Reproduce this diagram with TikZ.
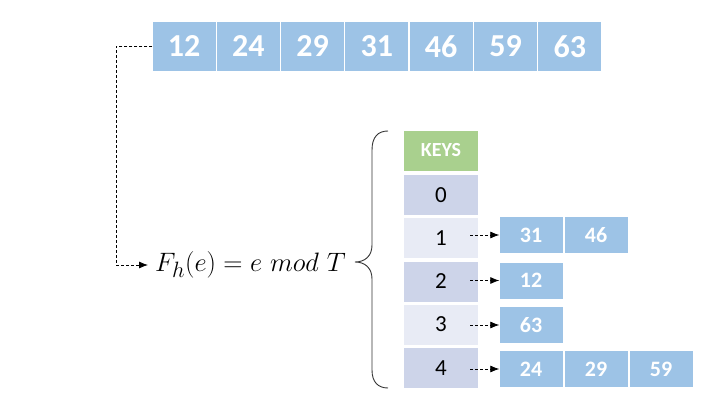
\documentclass[tikz,border=0pt]{standalone}
\usepackage{graphicx}
\usepackage{fontspec}
\newfontfamily\carlitofont{Carlito}
\usetikzlibrary{arrows.meta,positioning}
\definecolor{cellblue}{HTML}{9DC3E6}
\definecolor{keygreen}{HTML}{A9D08E}
\definecolor{rowdark}{HTML}{CDD4E9}
\definecolor{rowlight}{HTML}{E8EBF5}
\tikzset{
  topcell/.style={fill=cellblue, minimum width=63pt, minimum height=49pt, inner sep=0pt, text=white, font=\carlitofont\bfseries\fontsize{32}{32}\selectfont},
  keycell/.style={minimum width=74pt, minimum height=40pt, inner sep=0pt, font=\carlitofont\fontsize{23}{23}\selectfont},
  chaincell/.style={fill=cellblue, minimum width=63pt, minimum height=36pt, inner sep=0pt, text=white, font=\carlitofont\bfseries\fontsize{22}{22}\selectfont},
  link/.style={densely dashed, line width=0.8pt, -{Latex[length=9pt,width=7pt]}},
}
\begin{document}
\begin{tikzpicture}[x=1pt,y=-1pt]
\useasboundingbox (0,0) rectangle (720,404);
% top array
\foreach \v [count=\i from 0] in {12,24,29,31,46,59,63}{
  \node[topcell] (t\i) at ({184+64.3*\i},46.5) {\v};
}
% keys column
\node[keycell, fill=keygreen, text=white, font=\carlitofont\bfseries\fontsize{20}{20}\selectfont] (keys) at (441,150.5) {KEYS};
\node[keycell, fill=rowdark] (r0) at (441,195) {0};
\node[keycell, fill=rowlight] (r1) at (441,238) {1};
\node[keycell, fill=rowdark] (r2) at (441,281.5) {2};
\node[keycell, fill=rowlight] (r3) at (441,324.5) {3};
\node[keycell, fill=rowdark] (r4) at (441,368) {4};
% chains
\node[chaincell] (c1a) at (531,235) {31};
\node[chaincell] (c1b) at (596,235) {46};
\node[chaincell] (c2a) at (531,280.5) {12};
\node[chaincell] (c3a) at (531,325) {63};
\node[chaincell] (c4a) at (531,369) {24};
\node[chaincell] (c4b) at (596,369) {29};
\node[chaincell] (c4c) at (661,369) {59};
\draw[link] ([xshift=-8pt]r1.east |- c1a.west) -- (c1a.west);
\draw[link] ([xshift=-8pt]r2.east |- c2a.west) -- (c2a.west);
\draw[link] ([xshift=-8pt]r3.east |- c3a.west) -- (c3a.west);
\draw[link] ([xshift=-8pt]r4.east |- c4a.west) -- (c4a.west);
% formula
\node[anchor=west, inner sep=0pt, font=\fontsize{24.88}{24.88}\selectfont] (f) at (155,265) {\scalebox{1.07}{$F_h(e) = e~mod~T$}};
\coordinate (bend) at (116,46.5);
\draw[link] (t0.west) -- (bend) |- ([xshift=-7pt]f.west);
% brace
\draw[line width=0.9pt, black!80] (388,131) .. controls (378,131) and (372,137) .. (372,150) -- (372,245) .. controls (372,256) and (365,262) .. (355,262) .. controls (365,262) and (372,268) .. (372,279) -- (372,370) .. controls (372,382) and (378,388) .. (388,388);
\end{tikzpicture}
\end{document}
